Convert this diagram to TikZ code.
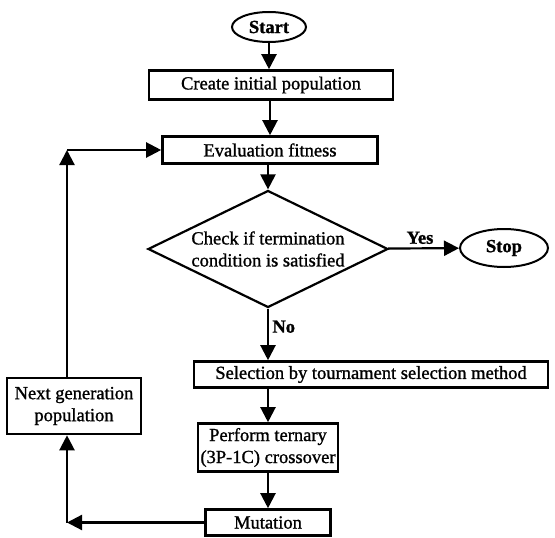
\documentclass[tikz,border=0pt]{standalone}
\usepackage{fontspec}
\setmainfont{Liberation Serif}[FakeBold=1.2]
\usetikzlibrary{arrows.meta,positioning,shapes.geometric}

\begin{document}
\begin{tikzpicture}[x=1pt, y=-1pt, font=\fontsize{18.5}{22}\selectfont,
  box/.style={draw, line width=2.6pt, inner sep=0pt, align=center},
  term/.style={draw, ellipse, line width=2pt, inner sep=0pt, font=\fontsize{18.5}{22}\selectfont\bfseries},
  flow/.style={line width=2.2pt, -{Triangle[length=15pt, width=15pt]}},
  answer/.style={font=\fontsize{18.5}{22}\selectfont\bfseries}]
\useasboundingbox (0,0) rectangle (555,538);
% start / stop
\node[term, minimum width=74pt, minimum height=30pt] (start) at (269,27) {Start};
\node[term, minimum width=88pt, minimum height=38pt] (stop) at (504,248) {Stop};
% main column
\node[box, minimum width=244pt, minimum height=29pt] (init) at (271,85) {Create initial population};
\node[box, minimum width=215pt, minimum height=27pt] (eval) at (270,150) {Evaluation fitness};
\node[draw, diamond, line width=2.2pt, minimum width=240pt, minimum height=117pt, inner sep=0pt] (check) at (268,249) {};
\node[align=center, inner sep=0pt] (checktxt) at (check) {Check if termination\\condition is satisfied};
\node[box, minimum width=354pt, minimum height=26pt] (select) at (371,374.5) {Selection by tournament selection method};
\node[box, minimum width=140pt, minimum height=48pt] (cross) at (268,447.5) {Perform ternary\\(3P-1C) crossover};
\node[box, minimum width=125pt, minimum height=26pt] (mutate) at (268,522.5) {Mutation};
% loop back
\node[box, minimum width=134pt, minimum height=56pt] (nextgen) at (74,406) {Next generation\\population};
\coordinate (lowcorner) at (67,522.5);
\coordinate (upcorner) at (67,150);

\draw[flow] (start) -- (start |- init.north);
\draw[flow] (init.south -| eval) -- (eval);
\draw[flow] (eval.south -| check) -- (check);
\draw[flow] (check) -- node[answer, above, pos=0.45] {Yes} (stop);
\draw[flow] (check.south) -- node[answer, right, pos=0.35] {No} (check.south |- select.north);
\draw[flow] (select.south -| cross) -- (cross);
\draw[flow] (cross) -- (mutate);
\draw[flow] (mutate) -- (lowcorner);
\draw[flow] (lowcorner) -- (lowcorner |- nextgen.south);
\draw[flow] (upcorner |- nextgen.north) -- (upcorner);
\draw[flow] (upcorner) -- (eval);
\end{tikzpicture}
\end{document}
